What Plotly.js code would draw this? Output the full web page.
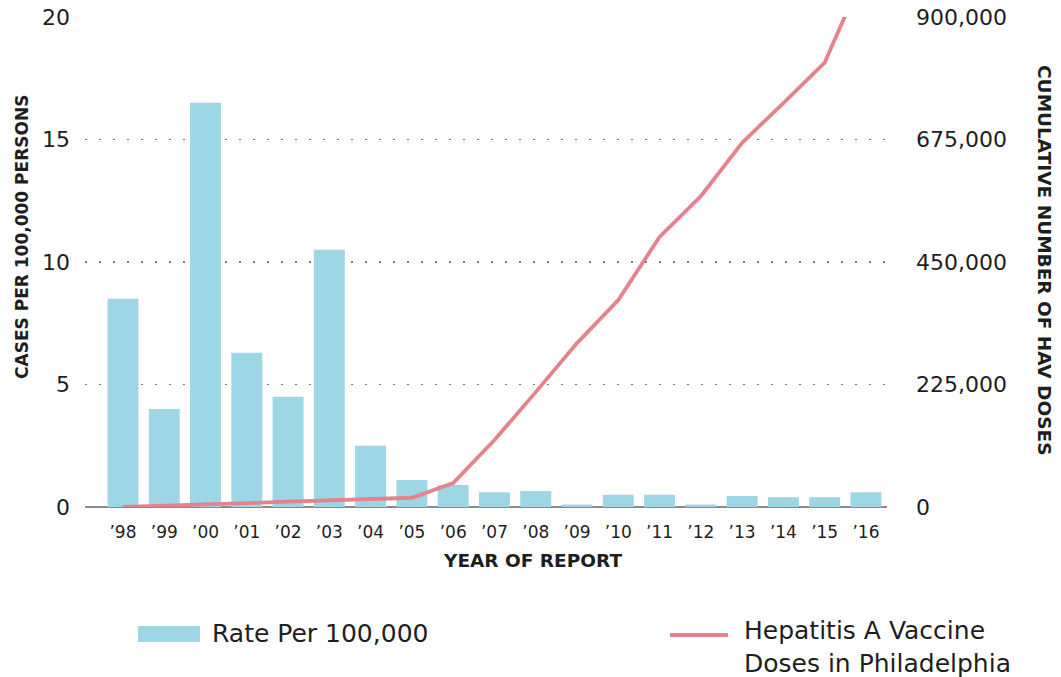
<!DOCTYPE html>
<html>
<head>
<meta charset="utf-8">
<script src="https://cdn.plot.ly/plotly-3.0.1.min.js"></script>
<style>html,body{margin:0;padding:0;background:#fff;}#chart{width:1061px;height:677px;}</style>
</head>
<body>
<div id="chart"></div>
<script>
const years = ["’98","’99","’00","’01","’02","’03","’04","’05","’06","’07","’08","’09","’10","’11","’12","’13","’14","’15","’16"];
const ratePer100k = [8.5, 4.0, 16.5, 6.3, 4.5, 10.5, 2.5, 1.1, 0.9, 0.6, 0.65, 0.1, 0.5, 0.5, 0.1, 0.45, 0.4, 0.4, 0.6];
const vaccineDoses = [0, 2000, 5000, 7000, 10000, 12000, 14000, 17000, 44000, 123000, 211000, 301000, 380000, 496000, 571000, 669000, 742000, 816000, 990000];
const leftTicks = [0, 5, 10, 15, 20];
const rightTicks = [0, 225000, 450000, 675000, 900000];
const rateName = "Rate Per 100,000";
const doseName = "Hepatitis A Vaccine<br>Doses in Philadelphia";

const barColor = "#9dd7e6";
const lineColor = "#e6828d";
const textColor = "#1e1e1e";
const font = "'DejaVu Sans', 'Open Sans', sans-serif";

const traces = [
  {type: "bar", x: years, y: ratePer100k, name: rateName, marker: {color: barColor}, showlegend: false},
  {type: "scatter", mode: "lines", x: years, y: vaccineDoses, yaxis: "y2", name: doseName,
   line: {color: lineColor, width: 3.8}, showlegend: false}
];

const layout = {
  width: 1061, height: 677,
  margin: {l: 85, r: 174, t: 17, b: 170},
  paper_bgcolor: "#fff", plot_bgcolor: "#fff",
  font: {family: font, color: textColor},
  bargap: 0.25,
  xaxis: {
    type: "category", range: [-0.92, 18.51],
    showgrid: false, showline: false, zeroline: false,
    ticks: "", ticklabelstandoff: 13,
    tickfont: {size: 17, color: textColor, family: font}
  },
  yaxis: {
    range: [0, 20], tickvals: leftTicks, ticktext: leftTicks.map(String),
    showgrid: true, gridcolor: "#777", gridwidth: 1.5, griddash: "1.5px,12.5px",
    zeroline: true, zerolinecolor: "#8a8a8a", zerolinewidth: 1.5,
    ticks: "", ticklabelstandoff: 14,
    tickfont: {size: 22, color: textColor, family: font}
  },
  yaxis2: {
    overlaying: "y", side: "right", range: [0, 900000],
    tickvals: rightTicks, tickformat: ",d",
    showgrid: false, zeroline: false, ticks: "", ticklabelstandoff: 28,
    tickfont: {size: 22, color: textColor, family: font}
  },
  annotations: [
    {text: "<b>CASES PER 100,000 PERSONS</b>", textangle: -90, xref: "paper", yref: "paper",
     x: -0.0786, y: 0.551, xanchor: "center", yanchor: "middle", showarrow: false,
     font: {size: 17, family: font, color: textColor}},
    {text: "<b>CUMULATIVE NUMBER OF HAV DOSES</b>", textangle: 90, xref: "paper", yref: "paper",
     x: 1.197, y: 0.504, xanchor: "center", yanchor: "middle", showarrow: false,
     font: {size: 18.5, family: font, color: textColor}},
    {text: "<b>YEAR OF REPORT</b>", xref: "paper", yref: "paper",
     x: 0.5586, y: -0.110, xanchor: "center", yanchor: "middle", showarrow: false,
     font: {size: 18.5, family: font, color: textColor}},
    {text: rateName, xref: "paper", yref: "paper", x: 0.1559, y: -0.259, xanchor: "left", yanchor: "middle",
     showarrow: false, align: "left", font: {size: 25, family: font, color: textColor}},
    {text: doseName, xref: "paper", yref: "paper", x: 0.819, y: -0.286, xanchor: "left", yanchor: "middle",
     showarrow: false, align: "left", font: {size: 25, family: font, color: textColor}}
  ],
  shapes: [
    {type: "rect", xref: "paper", yref: "paper", x0: 0.0661, x1: 0.1434, y0: -0.2755, y1: -0.2429,
     fillcolor: barColor, line: {width: 0}},
    {type: "line", xref: "paper", yref: "paper", x0: 0.7294, x1: 0.8017, y0: -0.261, y1: -0.261,
     line: {color: lineColor, width: 4}}
  ]
};

Plotly.newPlot("chart", traces, layout, {displayModeBar: false, staticPlot: true});
</script>
</body>
</html>
